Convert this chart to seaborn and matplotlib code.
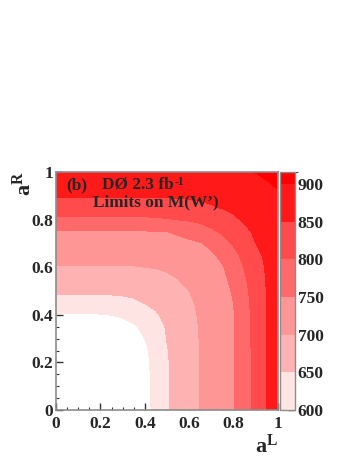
import numpy as np
import matplotlib
matplotlib.use("Agg")
import matplotlib.pyplot as plt
import matplotlib.ticker as mticker
from matplotlib.colors import ListedColormap, BoundaryNorm
from matplotlib.cm import ScalarMappable
import seaborn as sns

# ---- data ----
a_L = [0.00, 0.05, 0.10, 0.15, 0.20, 0.25, 0.30, 0.35, 0.40, 0.45, 0.50,
       0.55, 0.60, 0.65, 0.70, 0.75, 0.80, 0.85, 0.90, 0.95, 1.00]
a_R = [0.00, 0.05, 0.10, 0.15, 0.20, 0.25, 0.30, 0.35, 0.40, 0.45, 0.50,
       0.55, 0.60, 0.65, 0.70, 0.75, 0.80, 0.85, 0.90, 0.95, 1.00]
# M(W') limit [GeV]; rows = a_R, columns = a_L
mass_limit = [
    [450, 450, 450, 450, 456, 488, 520, 552, 584, 615, 646, 665, 683, 701, 716, 732, 747, 779, 815, 850, 864],
    [450, 450, 450, 450, 456, 488, 520, 552, 584, 615, 646, 665, 683, 701, 716, 732, 747, 779, 815, 850, 864],
    [450, 450, 450, 450, 458, 489, 521, 552, 584, 615, 646, 665, 683, 701, 716, 732, 747, 779, 815, 850, 864],
    [450, 450, 450, 450, 464, 492, 522, 553, 585, 616, 646, 666, 683, 701, 716, 732, 747, 779, 815, 850, 864],
    [463, 463, 464, 469, 481, 501, 527, 556, 587, 617, 646, 666, 684, 701, 717, 732, 747, 779, 815, 850, 864],
    [497, 497, 497, 499, 506, 519, 539, 563, 591, 619, 648, 666, 684, 701, 717, 732, 747, 780, 815, 850, 864],
    [530, 530, 530, 531, 535, 543, 556, 576, 600, 625, 651, 668, 685, 702, 717, 732, 747, 780, 816, 850, 864],
    [563, 563, 563, 564, 566, 571, 580, 594, 612, 633, 654, 670, 686, 703, 718, 733, 748, 781, 816, 850, 865],
    [597, 597, 597, 597, 598, 601, 607, 616, 629, 646, 660, 674, 689, 705, 719, 734, 748, 782, 817, 851, 865],
    [630, 630, 630, 630, 631, 632, 636, 642, 651, 658, 668, 680, 694, 707, 721, 735, 750, 785, 819, 851, 865],
    [658, 658, 658, 658, 658, 659, 660, 662, 666, 671, 679, 689, 700, 712, 724, 738, 754, 788, 822, 852, 866],
    [677, 677, 677, 677, 677, 678, 678, 680, 682, 686, 692, 700, 708, 718, 729, 741, 761, 795, 826, 853, 867],
    [697, 697, 697, 697, 697, 697, 698, 698, 700, 702, 706, 711, 718, 726, 736, 747, 772, 803, 832, 855, 869],
    [714, 714, 714, 714, 714, 714, 714, 715, 716, 717, 720, 724, 729, 736, 744, 759, 787, 813, 840, 858, 871],
    [730, 730, 730, 730, 730, 730, 731, 731, 732, 733, 735, 738, 742, 747, 760, 782, 805, 827, 850, 862, 874],
    [747, 747, 747, 747, 747, 747, 747, 747, 748, 749, 750, 756, 765, 777, 792, 807, 823, 842, 856, 867, 878],
    [790, 790, 790, 790, 790, 790, 790, 791, 792, 794, 797, 801, 805, 811, 820, 830, 844, 855, 863, 873, 883],
    [825, 825, 825, 825, 825, 825, 825, 825, 826, 827, 828, 831, 834, 839, 846, 852, 857, 864, 871, 880, 889],
    [853, 853, 853, 853, 853, 853, 853, 853, 853, 854, 854, 855, 856, 858, 861, 864, 869, 874, 880, 888, 896],
    [868, 868, 868, 868, 868, 868, 868, 868, 868, 868, 869, 869, 870, 872, 874, 877, 880, 885, 890, 897, 904],
    [882, 882, 882, 882, 882, 882, 882, 882, 883, 883, 883, 884, 885, 886, 888, 890, 893, 897, 901, 907, 914],
]
contour_levels = [600, 650, 700, 750, 800, 850, 900, 1000]
colorbar_levels = [600, 650, 700, 750, 800, 850, 900, 916]
colorbar_ticks = [600, 650, 700, 750, 800, 850, 900]
axis_ticks = [0, 0.2, 0.4, 0.6, 0.8, 1.0]
band_colors = ["#ffe4e4", "#ffb2b2", "#ff9696", "#ff6969", "#ff4b4b", "#ff1919", "#ff0000"]

# ---- style ----
sns.set_style("ticks")
plt.rcParams["font.family"] = ["Liberation Serif", "DejaVu Serif"]
plt.rcParams["font.weight"] = "bold"
plt.rcParams["mathtext.fontset"] = "custom"
plt.rcParams["mathtext.rm"] = "Liberation Serif:bold"
plt.rcParams["mathtext.it"] = "Liberation Serif:bold"
plt.rcParams["mathtext.bf"] = "Liberation Serif:bold"

fig = plt.figure(figsize=(3.54, 4.58), dpi=100)
ax = fig.add_axes([56/354, 1-410/458, 222/354, 238/458])
cax = fig.add_axes([280/354, 1-410/458, 15/354, 238/458])

ax.contourf(np.array(a_L), np.array(a_R), np.array(mass_limit),
            levels=contour_levels, colors=band_colors)
ax.set_xlim(0, 1)
ax.set_ylim(0, 1)
fmt = mticker.FuncFormatter(lambda v, pos: "%g" % v)
for axis in (ax.xaxis, ax.yaxis):
    axis.set_major_locator(mticker.FixedLocator(axis_ticks))
    axis.set_minor_locator(mticker.MultipleLocator(0.05))
    axis.set_major_formatter(fmt)
ax.tick_params(which="both", direction="in", top=False, right=False,
               labelsize=12.5, color="#333333")
ax.tick_params(which="major", length=5, width=1)
ax.tick_params(which="minor", length=2.5, width=0.8)
ax.tick_params(axis="x", pad=4)
ax.tick_params(axis="y", pad=2)
for s in ax.spines.values():
    s.set_color("#8c8c8c")
    s.set_linewidth(1.2)

ax.text(1.0, -0.105, r"$\mathrm{a}^{\mathrm{L}}$", transform=ax.transAxes,
        ha="right", va="top", fontsize=16)
ax.text(-0.144, 1.005, r"$\mathrm{a}^{\mathrm{R}}$", transform=ax.transAxes,
        ha="center", va="top", rotation=90, fontsize=16)
ax.text(0.045, 0.929, "(b)", transform=ax.transAxes, fontsize=12.4, va="baseline")
t = ax.text(0.207, 0.929, "DØ 2.3 fb", transform=ax.transAxes, fontsize=12.4, va="baseline")
ax.annotate("-1", xy=(1.0, 1.0), xycoords=t, xytext=(0.5, 1), textcoords="offset points",
            ha="left", va="top", fontsize=8.5)
ax.text(0.167, 0.854, "Limits on M(W\u2019)", transform=ax.transAxes,
        fontsize=12.4, va="baseline")

sm = ScalarMappable(norm=BoundaryNorm(colorbar_levels, len(band_colors)),
                    cmap=ListedColormap(band_colors))
cb = fig.colorbar(sm, cax=cax, spacing="proportional", ticks=colorbar_ticks)
cb.outline.set_edgecolor("#8c8c8c")
cb.outline.set_linewidth(1.0)
cax.yaxis.set_ticks_position("right")
cax.tick_params(direction="in", length=5, width=1, labelsize=12.5, pad=2, color="#333333")

fig.savefig("out.png", dpi=100)
